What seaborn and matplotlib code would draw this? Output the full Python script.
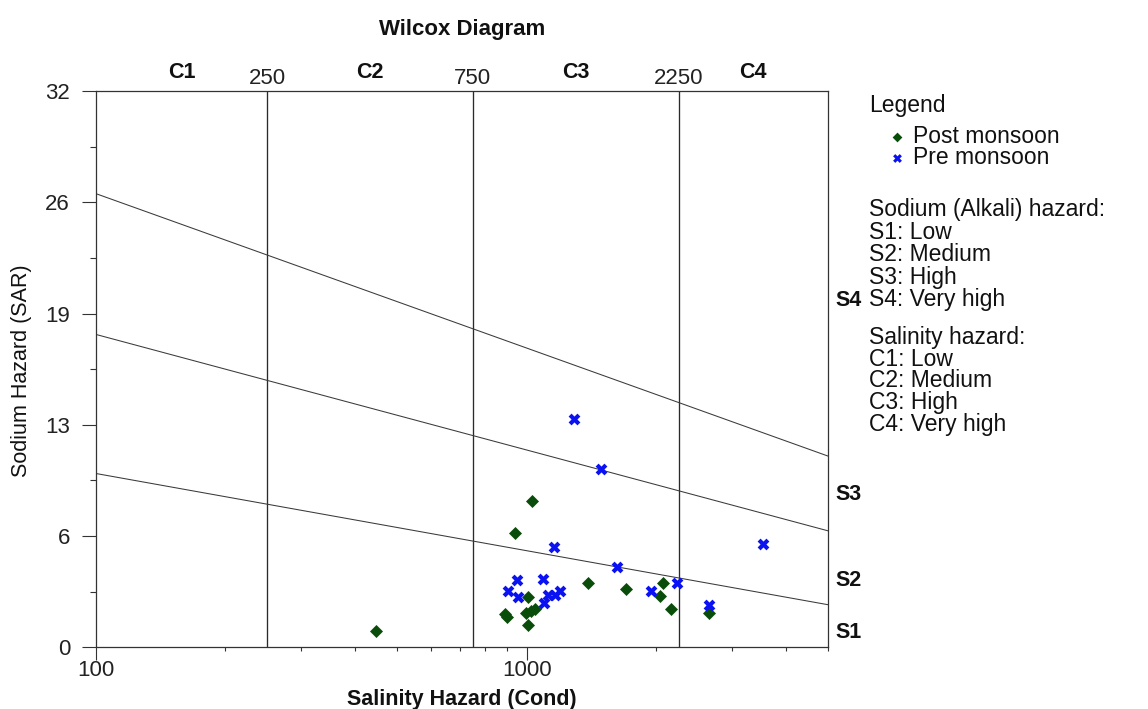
import numpy as np
import pandas as pd
import matplotlib
matplotlib.use("Agg")
import matplotlib.pyplot as plt
import matplotlib.ticker as mticker
from matplotlib.transforms import blended_transform_factory
import seaborn as sns

# ---------------- data ----------------
post_cond = [447, 890, 900, 941, 1027, 1009, 995, 1022, 1045, 1009, 1389, 1701, 2068, 2042, 2161, 2642]
post_sar = [0.94, 1.93, 1.73, 6.59, 8.43, 2.91, 1.99, 2.10, 2.18, 1.28, 3.68, 3.37, 3.68, 2.95, 2.22, 1.95]
pre_cond = [1288, 1491, 1157, 1620, 3524, 2232, 2642, 1946, 950, 1091, 905, 953, 1120, 1163, 1192, 1096]
pre_sar = [13.11, 10.25, 5.75, 4.63, 5.92, 3.71, 2.45, 3.22, 3.87, 3.93, 3.25, 2.89, 3.01, 3.01, 3.25, 2.53]

cond_range = [100, 5000]
class_bounds = [250, 750, 2250]
class_names = ["C1", "C2", "C3", "C4"]
sodium_lines = {
    "low": [10.0, 2.45],
    "mid": [18.0, 6.7],
    "high": [26.1, 11.0],
}
s_names = ["S4", "S3", "S2", "S1"]
s_label_sar = [20.1, 8.93, 3.98, 0.99]

ytick_values = [0, 6.4, 12.8, 19.2, 25.6, 32]
ytick_labels = ["0", "6", "13", "19", "26", "32"]
xtick_values = [100, 1000]
xtick_labels = ["100", "1000"]

legend_lines_sodium = ["Sodium (Alkali) hazard:", "S1: Low", "S2: Medium", "S3: High", "S4: Very high"]
legend_lines_salinity = ["Salinity hazard:", "C1: Low", "C2: Medium", "C3: High", "C4: Very high"]

post_df = pd.DataFrame({"Cond": post_cond, "SAR": post_sar})
pre_df = pd.DataFrame({"Cond": pre_cond, "SAR": pre_sar})

# ---------------- style ----------------
sns.set_theme(style="white")
plt.rcParams["font.family"] = ["Liberation Sans", "DejaVu Sans"]

W, H = 1148, 709
fig = plt.figure(figsize=(W / 100, H / 100), dpi=100)
L, R, T, B = 95.7, 828.0, 91.0, 647.3
ax = fig.add_axes([L / W, 1 - B / H, (R - L) / W, (B - T) / H])

def fy(ypx):
    return 1 - ypx / H

def fx(xpx):
    return xpx / W

green = "#0a4d0a"
blue = "#0b12f2"
txt = "#111111"

sns.scatterplot(data=post_df, x="Cond", y="SAR", marker="D", s=44, color=green,
                linewidth=0, ax=ax, label="Post monsoon", zorder=5)
sns.scatterplot(data=pre_df, x="Cond", y="SAR", marker="X", s=72, color=blue,
                linewidth=0, ax=ax, label="Pre monsoon", zorder=5)

ax.set_xscale("log")
ax.set_xlim(cond_range)
ax.set_ylim(ytick_values[0], ytick_values[-1])

# class boundaries (vertical)
for b in class_bounds:
    ax.axvline(b, color="#2a2a2a", lw=0.95, zorder=2)

# sodium hazard lines
for key, vals in sodium_lines.items():
    ax.plot(cond_range, vals, color="#3a3a3a", lw=0.75, zorder=2)

# ticks
ax.set_yticks(ytick_values)
ax.set_yticklabels(ytick_labels)
ax.yaxis.set_minor_locator(mticker.FixedLocator([3.2, 9.6, 16.0, 22.4, 28.8]))
ax.set_xticks(xtick_values)
ax.set_xticklabels(xtick_labels)
ax.xaxis.set_minor_locator(mticker.LogLocator(base=10, subs=np.arange(2, 10), numticks=20))
ax.xaxis.set_minor_formatter(mticker.NullFormatter())

ax.tick_params(axis="y", which="major", direction="out", length=10, width=0.8,
               color="#333333", labelsize=16, pad=8.5, left=True, labelcolor="#222222")
ax.tick_params(axis="y", which="minor", direction="out", length=4.5, width=0.8,
               color="#333333", left=True)
ax.tick_params(axis="x", which="major", direction="out", length=9.1, width=0.8,
               color="#333333", labelsize=16, pad=0.3, bottom=True, labelcolor="#222222")
ax.tick_params(axis="x", which="minor", direction="out", length=3.1, width=0.8,
               color="#333333", bottom=True)

for sp in ax.spines.values():
    sp.set_color("#333333")
    sp.set_linewidth(0.9)

ax.set_xlabel("")
ax.set_ylabel("")
ax.grid(False)

# top class labels
trans_top = blended_transform_factory(ax.transData, ax.transAxes)
bounds_all = [cond_range[0]] + class_bounds + [cond_range[1]]
for i, name in enumerate(class_names):
    xc = np.sqrt(bounds_all[i] * bounds_all[i + 1])
    ax.text(xc, 1 + (T - 70) / (B - T), name, transform=trans_top, ha="center",
            va="center_baseline", fontsize=15.5, fontweight="bold", color=txt)
for b in class_bounds:
    ax.text(b, 1 + (T - 75.5) / (B - T), str(b), transform=trans_top, ha="center",
            va="center_baseline", fontsize=16, color="#222222")

# right S labels
trans_right = blended_transform_factory(ax.transAxes, ax.transData)
for name, yv in zip(s_names, s_label_sar):
    ax.text((835 - L) / (R - L), yv, name, transform=trans_right, ha="left",
            va="center_baseline", fontsize=15.5, fontweight="bold", color=txt)

# titles
fig.text(fx((L + R) / 2), fy(26.5), "Wilcox Diagram", ha="center", va="center_baseline",
         fontsize=16, fontweight="bold", color=txt)
fig.text(fx((L + R) / 2), fy(696.5), "Salinity Hazard (Cond)", ha="center",
         va="center_baseline", fontsize=15.5, fontweight="bold", color=txt)
fig.text(fx(22), fy(371), "Sodium Hazard (SAR)", ha="center", va="center",
         rotation=90, fontsize=15.5, color=txt)

# legend
if ax.get_legend() is not None:
    ax.get_legend().remove()
handles, labels = ax.get_legend_handles_labels()
fig.text(fx(869), fy(103), "Legend", ha="left", va="center_baseline", fontsize=16.5,
         color=txt)
leg = fig.legend(handles, labels, loc="upper left", bbox_to_anchor=(fx(889), fy(125)),
                 frameon=False, fontsize=16.5, handlelength=0.7, handletextpad=0.35,
                 labelspacing=-0.08, borderpad=0, borderaxespad=0, markerscale=0.75)
for t in leg.get_texts():
    t.set_color(txt)

for i, line in enumerate(legend_lines_sodium):
    fig.text(fx(869), fy(207 + i * 22.6), line, ha="left", va="center_baseline",
             fontsize=16.5, color=txt)
for i, line in enumerate(legend_lines_salinity):
    fig.text(fx(869), fy(335 + i * 21.7), line, ha="left", va="center_baseline",
             fontsize=16.5, color=txt)

fig.savefig("out.png", dpi=100)
